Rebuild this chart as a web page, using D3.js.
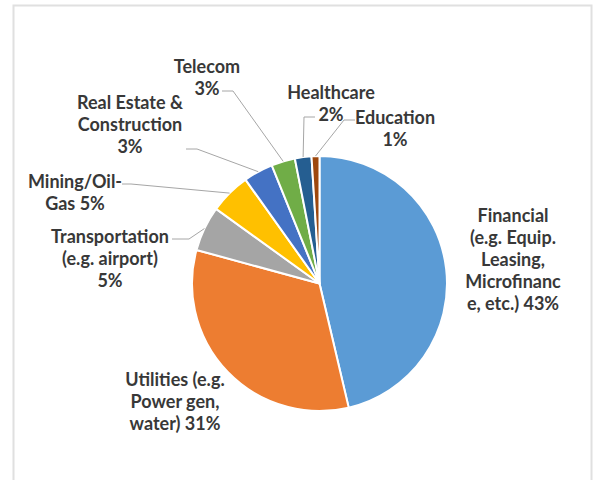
<!DOCTYPE html>
<html>
<head>
<meta charset="utf-8">
<script src="https://cdn.jsdelivr.net/npm/d3@7"></script>
<style>
  body { margin: 0; background: #fff; }
  svg { display: block; }
  .lbl { font-family: Lato, "Open Sans", sans-serif; font-weight: bold; font-size: 18px; fill: #383838; }
</style>
</head>
<body>
<div id="chart"></div>
<script>
"use strict";

// slice order is clockwise from 12 o'clock, as in the original
var categories = ["Financial", "Utilities", "Transportation", "Mining/Oil-Gas",
	"Real Estate & Construction", "Telecom", "Healthcare", "Education"];
// shares (the printed % labels don't add to 100)
var values = [46.3, 32.9, 5.7, 5.2, 3.75, 3.0, 2.1, 1.0];
var labelLines = [
	["Financial", "(e.g. Equip.", "Leasing,", "Microfinanc", "e, etc.)  43%"],
	["Utilities (e.g.", "Power gen,", "water) 31%"],
	["Transportation", "(e.g. airport)", "5%"],
	["Mining/Oil-", "Gas 5%"],
	["Real Estate &", "Construction", "3%"],
	["Telecom", "3%"],
	["Healthcare", "2%"],
	["Education", "1%"]
];
var colors = ["#5B9BD5", "#ED7D31", "#A5A5A5", "#FFC000", "#4472C4", "#70AD47", "#255E91", "#9E480E"];

var width = 596, height = 480;
var cx = 319.5, cy = 283.5, radius = 127.5;
var lineH = 22;

// label block placement: centre x, y of first line, and where the leader starts
// leader: horizontal run from x0 to elbow x1 at line `row`, then to the slice; null = none
var layout = [
	{ x: 513, y: 216, leader: null },
	{ x: 175, y: 380, leader: null },
	{ x: 110, y: 237, leader: { row: 0, x0: 172, x1: 189 } },
	{ x: 75, y: 182, leader: { row: 0, x0: 122, x1: 131 } },
	{ x: 130, y: 103, leader: { row: 2, x0: 186, x1: 197 } },
	{ x: 207, y: 67, leader: { row: 1, x0: 222, x1: 233 } },
	{ x: 331, y: 93, leader: { row: 1, x0: 315, x1: 304 } },
	{ x: 395, y: 118, leader: { row: 0, x0: 355, x1: 344 } }
];

var svg = d3.select("#chart")
	.append("svg")
	.attr("width", width)
	.attr("height", height);

// faint frame of the chart area
svg.append("rect")
	.attr("x", 13.5).attr("y", 5.5)
	.attr("width", 578).attr("height", 480)
	.attr("fill", "none")
	.attr("stroke", "#e0e0e0")
	.attr("stroke-width", 2);

var pie = d3.pie().sort(null).value(function (d) { return d; });
var arcs = pie(values);
var arc = d3.arc().innerRadius(0).outerRadius(radius);

var g = svg.append("g").attr("transform", "translate(" + cx + "," + cy + ")");

g.selectAll("path.slice")
	.data(arcs)
	.enter().append("path")
	.attr("class", "slice")
	.attr("d", arc)
	.attr("fill", function (d, i) { return colors[i]; })
	.attr("stroke", "#fff")
	.attr("stroke-width", 2)
	.attr("stroke-linejoin", "round");

// leader lines: label -> elbow -> slice edge at mid angle
arcs.forEach(function (d, i) {
	var L = layout[i].leader;
	if (!L) return;
	var mid = (d.startAngle + d.endAngle) / 2;
	var ex = cx + radius * Math.sin(mid),
		ey = cy - radius * Math.cos(mid);
	var ly = layout[i].y + L.row * lineH + 2;
	svg.append("polyline")
		.attr("points", [[L.x0, ly], [L.x1, ly], [ex, ey]].join(" "))
		.attr("fill", "none")
		.attr("stroke", "#a6a6a6")
		.attr("stroke-width", 1);
});

// labels
labelLines.forEach(function (lines, i) {
	var t = svg.append("text")
		.attr("class", "lbl")
		.attr("text-anchor", "middle");
	lines.forEach(function (s, k) {
		t.append("tspan")
			.attr("x", layout[i].x)
			.attr("y", layout[i].y + k * lineH)
			.attr("dy", "0.35em")
			.text(s);
	});
});
</script>
</body>
</html>
